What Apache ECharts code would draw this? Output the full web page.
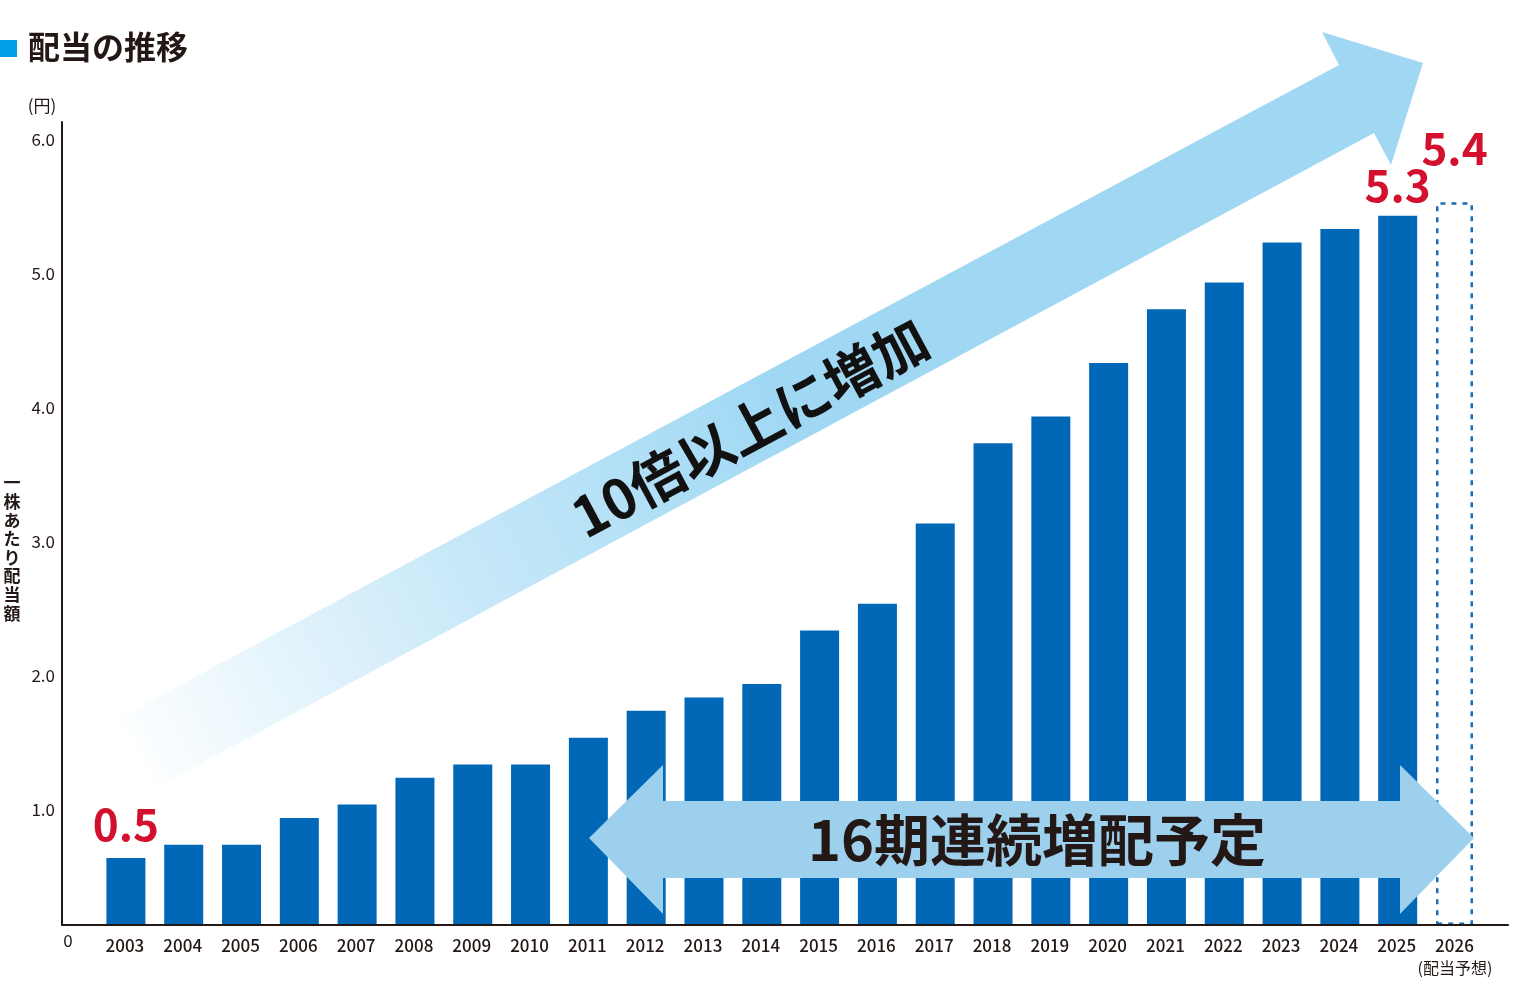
<!DOCTYPE html>
<html>
<head>
<meta charset="utf-8">
<script src="https://cdn.jsdelivr.net/npm/echarts@6/dist/echarts.min.js"></script>
<style>
  html, body { margin: 0; padding: 0; background: #fff; }
  #chart { width: 1530px; height: 990px; }
</style>
</head>
<body>
<div id="chart"></div>
<script>
var years = ['2003', '2004', '2005', '2006', '2007', '2008', '2009', '2010', '2011', '2012', '2013', '2014',
  '2015', '2016', '2017', '2018', '2019', '2020', '2021', '2022', '2023', '2024', '2025', '2026'];
// 1株あたり配当額 (円) 2003-2025 実績
var dividends = [0.5, 0.6, 0.6, 0.8, 0.9, 1.1, 1.2, 1.2, 1.4, 1.6, 1.7, 1.8,
  2.2, 2.4, 3.0, 3.6, 3.8, 4.2, 4.6, 4.8, 5.1, 5.2, 5.3];
// 2026 配当予想
var forecast = [5.4];

(function() {
  var ink = '#231815';
  var barBlue = '#0068b7';
  var red = '#d3112e';
  var font = '"Noto Sans CJK JP", "Noto Sans", sans-serif';
  var n = dividends.length;

  var redLabel = function(dist) {
    return {
      show: true, position: 'top', distance: dist,
      color: red, fontFamily: font, fontWeight: 'bold', fontSize: 44,
      formatter: function(p) { return p.value.toFixed(1); }
    };
  };

  var actualData = years.map(function(y, i) {
    if (i >= n) return '-';
    if (i === 0) return { value: dividends[i], label: redLabel(12) };
    if (i === n - 1) return { value: dividends[i], label: redLabel(8) };
    return dividends[i];
  });
  var forecastData = years.map(function(y, i) {
    if (i < n) return '-';
    return { value: forecast[i - n], label: redLabel(32) };
  });

  var chart = echarts.init(document.getElementById('chart'), null, { renderer: 'canvas' });
  chart.setOption({
    animation: false,
    backgroundColor: '#fff',
    grid: [
      { left: 62, right: 22, top: 122, bottom: 65, outerBoundsMode: 'none' },
      { left: 96, right: 46.6, top: 122, bottom: 65, outerBoundsMode: 'none' }
    ],
    xAxis: [
      {
        gridIndex: 0, type: 'value', min: 0, max: 1, z: 10,
        axisLine: { show: true, lineStyle: { color: ink, width: 2 } },
        axisTick: { show: false }, axisLabel: { show: false }, splitLine: { show: false }
      },
      {
        gridIndex: 1, type: 'category', data: years,
        axisLine: { show: false }, axisTick: { show: false },
        axisLabel: { interval: 0, margin: 12, color: ink, fontFamily: font, fontSize: 17, fontWeight: 500 }
      }
    ],
    yAxis: [
      {
        gridIndex: 0, type: 'value', min: 0, max: 6, interval: 1, z: 10,
        axisLine: { show: true, lineStyle: { color: ink, width: 2 } },
        axisTick: { show: false }, splitLine: { show: false },
        axisLabel: {
          showMinLabel: false, margin: 7, verticalAlign: 'top', lineHeight: 36,
          color: ink, fontFamily: font, fontSize: 17,
          formatter: function(v) { return v.toFixed(1); }
        }
      },
      {
        gridIndex: 1, type: 'value', min: 0, max: 6, show: false
      }
    ],
    series: [
      {
        name: '配当', type: 'bar', xAxisIndex: 1, yAxisIndex: 1,
        barWidth: 39, barGap: '-100%',
        itemStyle: { color: barBlue },
        data: actualData
      },
      {
        name: '配当予想', type: 'bar', xAxisIndex: 1, yAxisIndex: 1,
        barWidth: 37, barGap: '-100%',
        itemStyle: { color: 'rgba(0,0,0,0)', borderColor: '#1a6cb8', borderWidth: 2.5, borderType: [5, 6] },
        data: forecastData
      }
    ],
    graphic: [
      // title
      { type: 'rect', left: 0, top: 40, shape: { width: 17, height: 17 }, style: { fill: '#00a0e9' } },
      { type: 'text', left: 28, top: 31, style: { text: '配当の推移', font: 'bold 32px ' + font, fill: ink } },
      { type: 'text', x: 42, y: 106, style: { text: '(円)', align: 'center', verticalAlign: 'middle', font: '17px ' + font, fill: ink } },
      { type: 'text', x: 68, y: 941, style: { text: '0', align: 'center', verticalAlign: 'middle', font: '17px ' + font, fill: ink } },
      { type: 'text', x: 12, y: 548, style: {
          text: '一株あたり配当額'.split('').join('\n'), align: 'center', verticalAlign: 'middle',
          font: 'bold 17px ' + font, lineHeight: 18.6, fill: ink } },
      { type: 'text', x: 1455, y: 968, style: { text: '(配当予想)', align: 'center', verticalAlign: 'middle', font: '16px ' + font, fill: ink } },
      // diagonal arrow
      {
        type: 'polygon', z: 1,
        shape: { points: [[120, 717], [1339, 65], [1322, 32], [1423, 63], [1391, 165], [1374, 133], [157, 787]] },
        style: {
          fill: {
            type: 'linear', global: true, x: 120, y: 752, x2: 1000, y2: 290,
            colorStops: [
              { offset: 0, color: 'rgba(160,216,244,0)' },
              { offset: 0.4, color: 'rgba(160,216,244,0.6)' },
              { offset: 0.75, color: 'rgba(160,216,244,1)' },
              { offset: 1, color: 'rgba(160,216,244,1)' }
            ]
          }
        }
      },
      {
        type: 'text', z: 2, x: 750, y: 428, rotation: 28.2 * Math.PI / 180,
        style: { text: '10倍以上に増加', align: 'center', verticalAlign: 'middle', font: 'bold 55px ' + font, fill: '#111' }
      },
      // double arrow
      {
        type: 'polygon', z: 20,
        shape: { points: [[589, 838], [663, 765], [663, 801], [1400, 801], [1400, 765], [1474, 838],
          [1400, 914], [1400, 878], [663, 878], [663, 914]] },
        style: { fill: '#9cd0ec' }
      },
      {
        type: 'text', z: 21, x: 1037, y: 840,
        style: { text: '16期連続増配予定', align: 'center', verticalAlign: 'middle', font: 'bold 56px ' + font, fill: ink }
      }
    ]
  });
  window.addEventListener('resize', function() { chart.resize(); });
})();
</script>
</body>
</html>
